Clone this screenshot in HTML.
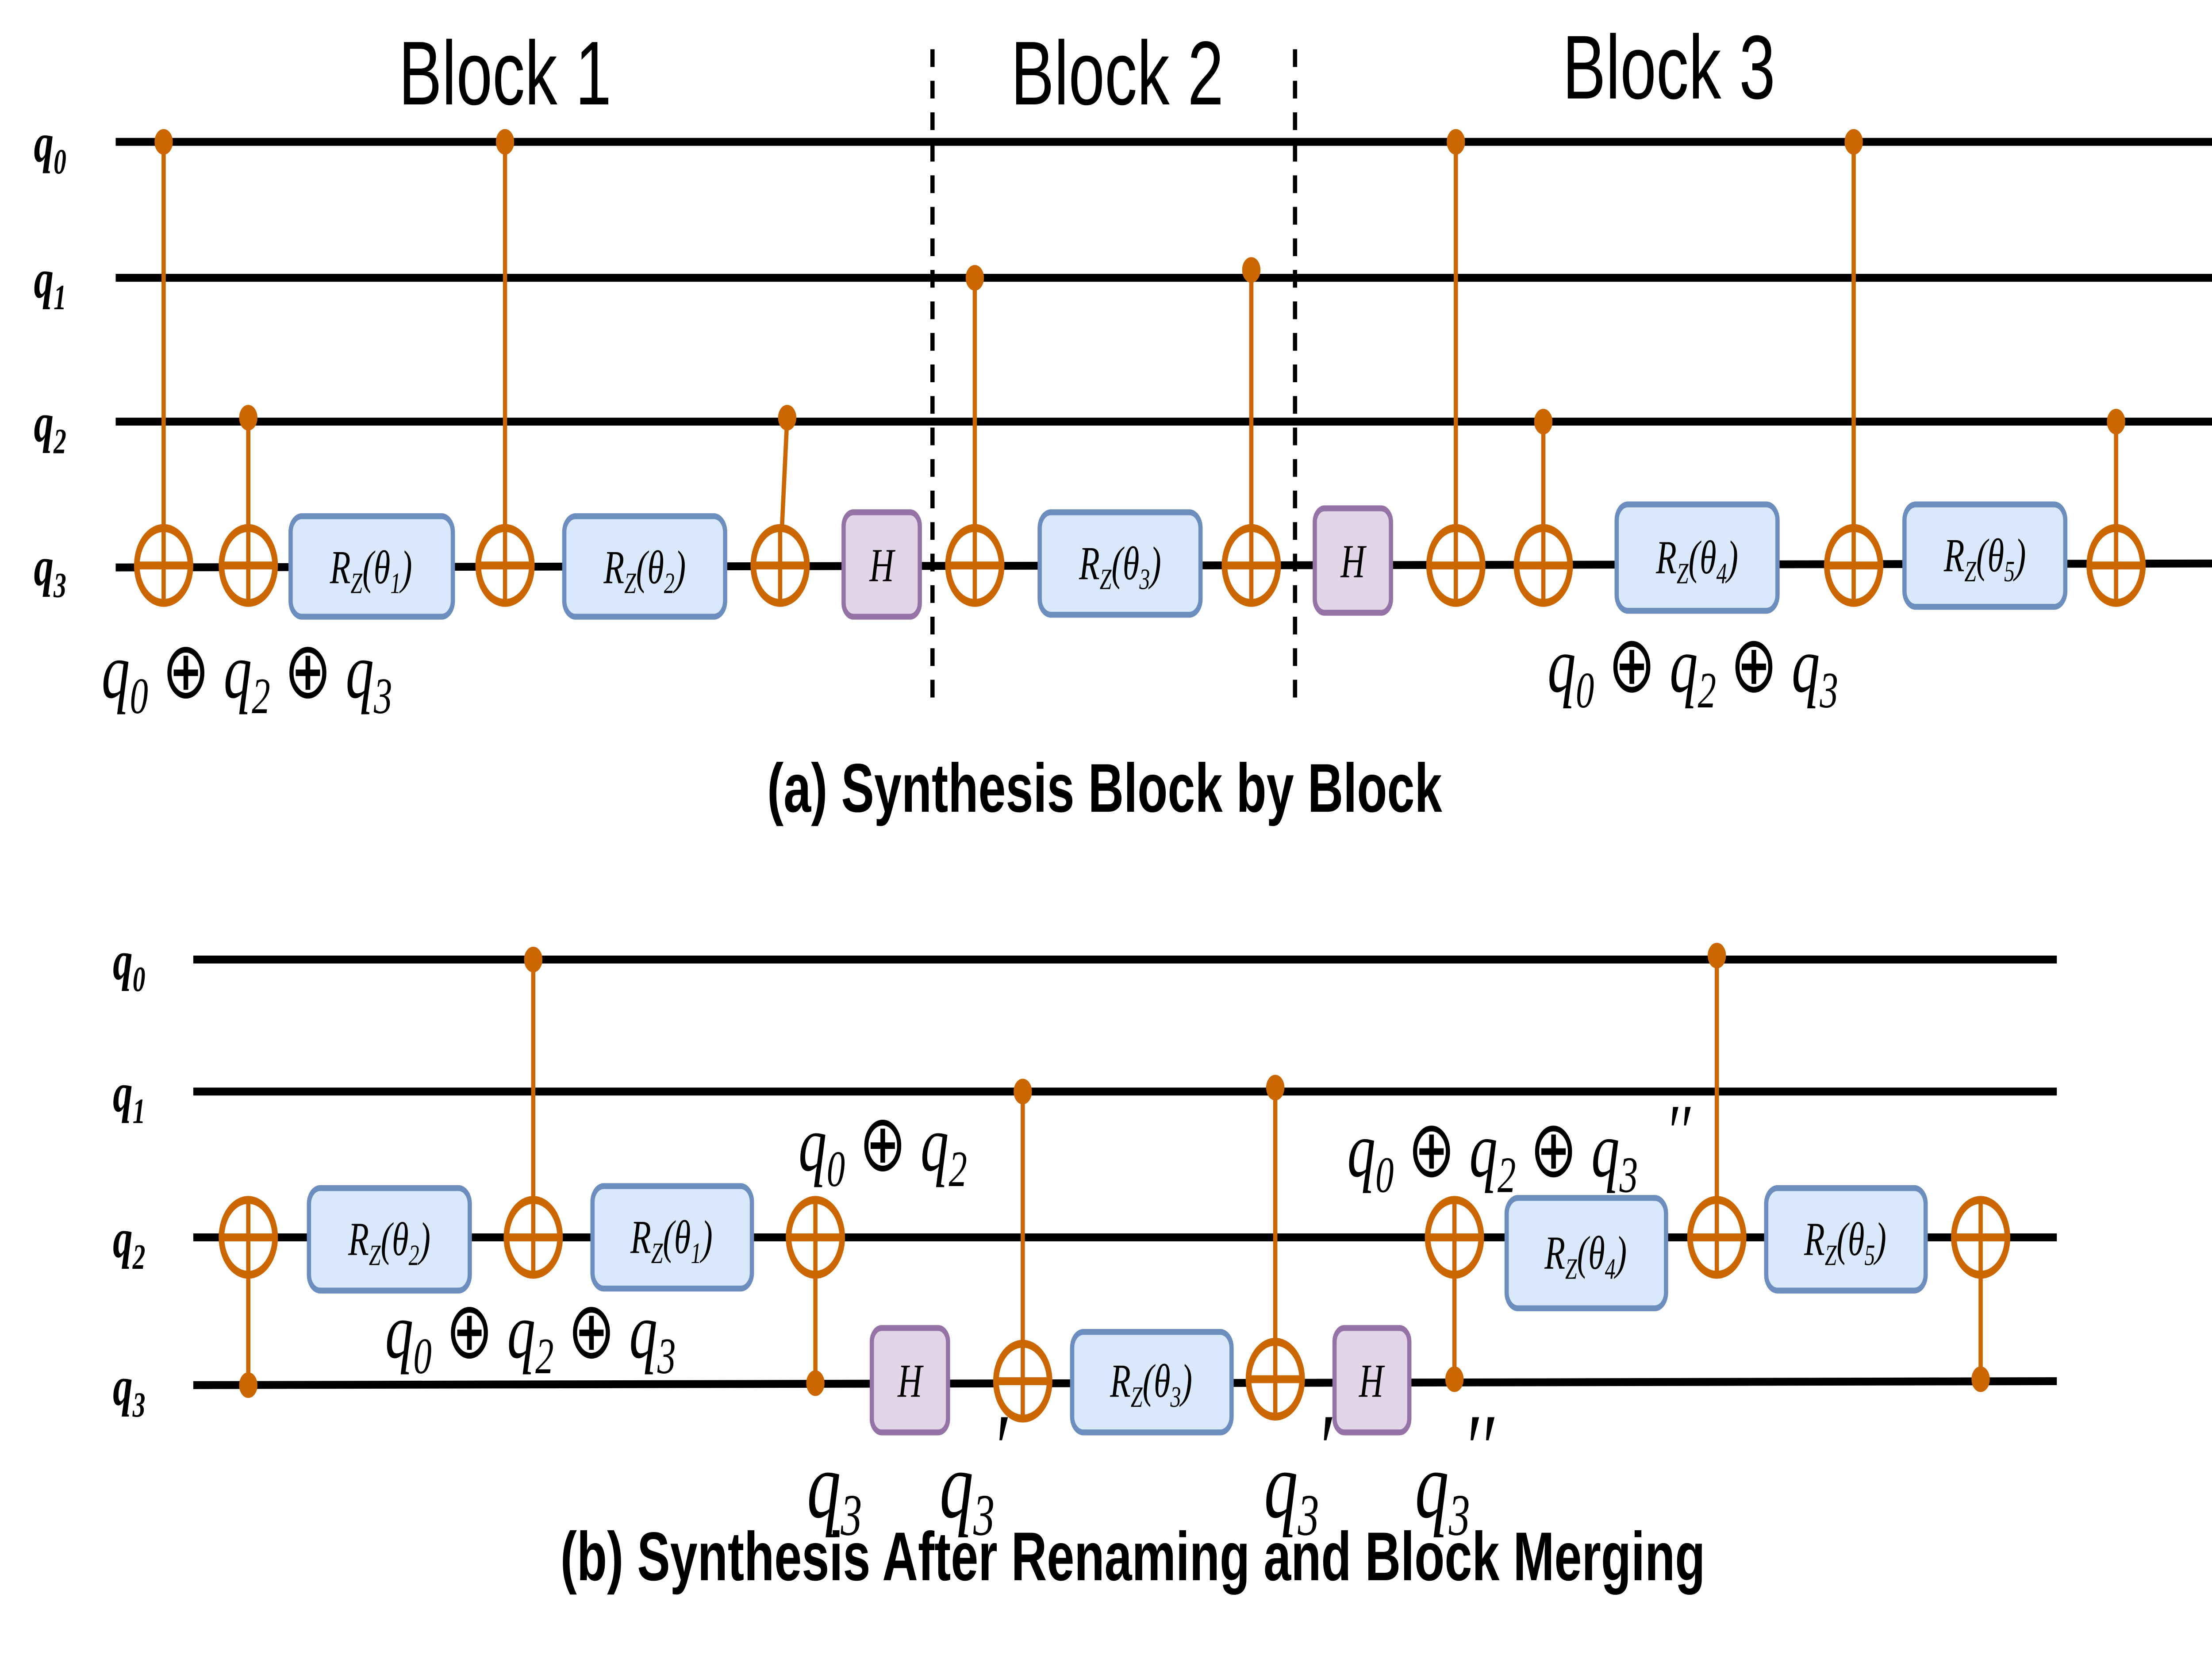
<!DOCTYPE html>
<html><head><meta charset="utf-8"><style>
html,body{margin:0;padding:0;background:#fff;width:100%;height:100%;overflow:hidden}
svg{display:block;position:fixed;left:0;top:0;width:100%;height:100%}
.m{font-family:"Liberation Serif",serif;font-style:italic}
</style></head><body>
<svg xmlns="http://www.w3.org/2000/svg" viewBox="0 0 1568 842" preserveAspectRatio="none">
<defs>
<g id="xo"><circle r="19" fill="#fff" stroke="#cc6600" stroke-width="4"/><line x1="-19" y1="0" x2="19" y2="0" stroke="#cc6600" stroke-width="4"/><line x1="0" y1="-19" x2="0" y2="19" stroke="#cc6600" stroke-width="3"/></g>
</defs>
<g stroke="#000" stroke-width="4">
<line x1="82" y1="72" x2="1568" y2="72"/><line x1="82" y1="141" x2="1568" y2="141"/>
<line x1="82" y1="214" x2="1568" y2="214"/><line x1="82" y1="288" x2="1568" y2="286"/>
<line x1="137" y1="487" x2="1458" y2="487"/><line x1="137" y1="554" x2="1458" y2="554"/>
<line x1="137" y1="628" x2="1458" y2="628"/><line x1="137" y1="703" x2="1458" y2="701"/>
</g>
<g stroke="#000" stroke-width="3" stroke-dasharray="9,7"><line x1="661" y1="25" x2="661" y2="355"/><line x1="918" y1="25" x2="918" y2="355"/></g>
<g class="m" font-size="28" font-weight="bold">
<text x="24" y="82">q<tspan font-size="18" dy="6">0</tspan></text>
<text x="24" y="151">q<tspan font-size="18" dy="6">1</tspan></text>
<text x="24" y="224">q<tspan font-size="18" dy="6">2</tspan></text>
<text x="24" y="297">q<tspan font-size="18" dy="6">3</tspan></text>
<text x="80" y="497">q<tspan font-size="18" dy="6">0</tspan></text>
<text x="80" y="564">q<tspan font-size="18" dy="6">1</tspan></text>
<text x="80" y="638">q<tspan font-size="18" dy="6">2</tspan></text>
<text x="80" y="713">q<tspan font-size="18" dy="6">3</tspan></text>
</g>
<g font-family="Liberation Sans,sans-serif" font-size="46" text-anchor="middle">
<text x="358" y="53">Block 1</text><text x="792" y="53">Block 2</text><text x="1183" y="50">Block 3</text>
</g>
<g stroke="#cc6600" stroke-width="3" fill="#cc6600">
<line x1="116" y1="72" x2="116" y2="287"/><circle cx="116" cy="72" r="5"/>
<line x1="176" y1="212" x2="176" y2="287"/><circle cx="176" cy="212" r="5"/>
<line x1="358" y1="72" x2="358" y2="287"/><circle cx="358" cy="72" r="5"/>
<line x1="558" y1="212" x2="553" y2="287"/><circle cx="558" cy="212" r="5"/>
<line x1="691" y1="141" x2="691" y2="287"/><circle cx="691" cy="141" r="5"/>
<line x1="887" y1="137" x2="887" y2="287"/><circle cx="887" cy="137" r="5"/>
<line x1="1032" y1="72" x2="1032" y2="287"/><circle cx="1032" cy="72" r="5"/>
<line x1="1094" y1="214" x2="1094" y2="287"/><circle cx="1094" cy="214" r="5"/>
<line x1="1314" y1="72" x2="1314" y2="287"/><circle cx="1314" cy="72" r="5"/>
<line x1="1500" y1="214" x2="1500" y2="287"/><circle cx="1500" cy="214" r="5"/>
<line x1="176" y1="628" x2="176" y2="703"/><circle cx="176" cy="703" r="5"/>
<line x1="378" y1="487" x2="378" y2="628"/><circle cx="378" cy="487" r="5"/>
<line x1="578" y1="628" x2="578" y2="702"/><circle cx="578" cy="702" r="5"/>
<line x1="725" y1="554" x2="725" y2="700"/><circle cx="725" cy="554" r="5"/>
<line x1="904" y1="552" x2="904" y2="700"/><circle cx="904" cy="552" r="5"/>
<line x1="1031" y1="628" x2="1031" y2="700"/><circle cx="1031" cy="700" r="5"/>
<line x1="1217" y1="485" x2="1217" y2="628"/><circle cx="1217" cy="485" r="5"/>
<line x1="1404" y1="628" x2="1404" y2="700"/><circle cx="1404" cy="700" r="5"/>
</g>
<g>
<use href="#xo" x="116" y="287"/><use href="#xo" x="176" y="287"/><use href="#xo" x="358" y="287"/>
<use href="#xo" x="553" y="287"/><use href="#xo" x="691" y="287"/><use href="#xo" x="887" y="287"/>
<use href="#xo" x="1032" y="287"/><use href="#xo" x="1094" y="287"/><use href="#xo" x="1314" y="287"/>
<use href="#xo" x="1500" y="287"/>
<use href="#xo" x="176" y="628"/><use href="#xo" x="378" y="628"/><use href="#xo" x="578" y="628"/>
<use href="#xo" x="725" y="701"/><use href="#xo" x="904" y="700"/><use href="#xo" x="1031" y="628"/>
<use href="#xo" x="1217" y="628"/><use href="#xo" x="1404" y="628"/>
</g>
<g fill="#dae8fc" stroke="#6c8ebf" stroke-width="3">
<rect x="206" y="262" width="115" height="51" rx="8"/><rect x="400" y="262" width="114" height="51" rx="8"/>
<rect x="737" y="260" width="114" height="52" rx="8"/><rect x="1146" y="256" width="114" height="54" rx="8"/>
<rect x="1350" y="256" width="114" height="52" rx="8"/>
<rect x="219" y="603" width="114" height="52" rx="8"/><rect x="420" y="602" width="113" height="52" rx="8"/>
<rect x="760" y="676" width="113" height="51" rx="8"/><rect x="1068" y="608" width="113" height="56" rx="8"/>
<rect x="1252" y="603" width="113" height="52" rx="8"/>
</g>
<g fill="#e1d5e7" stroke="#9673a6" stroke-width="3">
<rect x="598" y="260" width="54" height="53" rx="7"/><rect x="932" y="258" width="54" height="53" rx="7"/>
<rect x="618" y="674" width="54" height="53" rx="7"/><rect x="946" y="674" width="53" height="53" rx="7"/>
</g>
<g class="m" font-size="24" text-anchor="middle">
<text x="263" y="296">R<tspan font-size="15" dy="5">Z</tspan><tspan dy="-5">(θ</tspan><tspan font-size="15" dy="5">1</tspan><tspan dy="-5">)</tspan></text>
<text x="457" y="296">R<tspan font-size="15" dy="5">Z</tspan><tspan dy="-5">(θ</tspan><tspan font-size="15" dy="5">2</tspan><tspan dy="-5">)</tspan></text>
<text x="794" y="294">R<tspan font-size="15" dy="5">Z</tspan><tspan dy="-5">(θ</tspan><tspan font-size="15" dy="5">3</tspan><tspan dy="-5">)</tspan></text>
<text x="1203" y="291">R<tspan font-size="15" dy="5">Z</tspan><tspan dy="-5">(θ</tspan><tspan font-size="15" dy="5">4</tspan><tspan dy="-5">)</tspan></text>
<text x="1407" y="290">R<tspan font-size="15" dy="5">Z</tspan><tspan dy="-5">(θ</tspan><tspan font-size="15" dy="5">5</tspan><tspan dy="-5">)</tspan></text>
<text x="276" y="637">R<tspan font-size="15" dy="5">Z</tspan><tspan dy="-5">(θ</tspan><tspan font-size="15" dy="5">2</tspan><tspan dy="-5">)</tspan></text>
<text x="476" y="636">R<tspan font-size="15" dy="5">Z</tspan><tspan dy="-5">(θ</tspan><tspan font-size="15" dy="5">1</tspan><tspan dy="-5">)</tspan></text>
<text x="816" y="709">R<tspan font-size="15" dy="5">Z</tspan><tspan dy="-5">(θ</tspan><tspan font-size="15" dy="5">3</tspan><tspan dy="-5">)</tspan></text>
<text x="1124" y="644">R<tspan font-size="15" dy="5">Z</tspan><tspan dy="-5">(θ</tspan><tspan font-size="15" dy="5">4</tspan><tspan dy="-5">)</tspan></text>
<text x="1308" y="637">R<tspan font-size="15" dy="5">Z</tspan><tspan dy="-5">(θ</tspan><tspan font-size="15" dy="5">5</tspan><tspan dy="-5">)</tspan></text>
<text x="625" y="295">H</text><text x="959" y="293">H</text><text x="645" y="709">H</text><text x="972" y="709">H</text>
</g>
<g class="m" font-size="40">
<text x="72" y="354">q<tspan font-size="26" dy="8">0</tspan><tspan dy="-8" font-style="normal"> ⊕ </tspan>q<tspan font-size="26" dy="8">2</tspan><tspan dy="-8" font-style="normal"> ⊕ </tspan>q<tspan font-size="26" dy="8">3</tspan></text>
<text x="1097" y="351">q<tspan font-size="26" dy="8">0</tspan><tspan dy="-8" font-style="normal"> ⊕ </tspan>q<tspan font-size="26" dy="8">2</tspan><tspan dy="-8" font-style="normal"> ⊕ </tspan>q<tspan font-size="26" dy="8">3</tspan></text>
<text x="273" y="689">q<tspan font-size="26" dy="8">0</tspan><tspan dy="-8" font-style="normal"> ⊕ </tspan>q<tspan font-size="26" dy="8">2</tspan><tspan dy="-8" font-style="normal"> ⊕ </tspan>q<tspan font-size="26" dy="8">3</tspan></text>
<text x="566" y="594">q<tspan font-size="26" dy="8">0</tspan><tspan dy="-8" font-style="normal"> ⊕ </tspan>q<tspan font-size="26" dy="8">2</tspan></text>
<text x="955" y="597">q<tspan font-size="26" dy="8">0</tspan><tspan dy="-8" font-style="normal"> ⊕ </tspan>q<tspan font-size="26" dy="8">2</tspan><tspan dy="-8" font-style="normal"> ⊕ </tspan>q<tspan font-size="26" dy="8">3</tspan></text>
<text x="1183" y="588" font-size="40" font-style="normal">′′</text>
</g>
<g class="m" font-size="48">
<text x="572" y="770">q<tspan font-size="30" dy="9">3</tspan></text>
<text x="666" y="770">q<tspan font-size="30" dy="9">3</tspan></text>
<text x="706" y="752" font-size="50" font-style="normal">′</text>
<text x="896" y="770">q<tspan font-size="30" dy="9">3</tspan></text>
<text x="936" y="752" font-size="50" font-style="normal">′</text>
<text x="1003" y="770">q<tspan font-size="30" dy="9">3</tspan></text>
<text x="1040" y="752" font-size="50" font-style="normal">′′</text>
</g>
<g font-family="Liberation Sans,sans-serif" font-weight="bold" font-size="35" text-anchor="middle">
<text x="783" y="412">(a) Synthesis Block by Block</text>
<text x="803" y="802">(b) Synthesis After Renaming and Block Merging</text>
</g>
</svg>
</body></html>
